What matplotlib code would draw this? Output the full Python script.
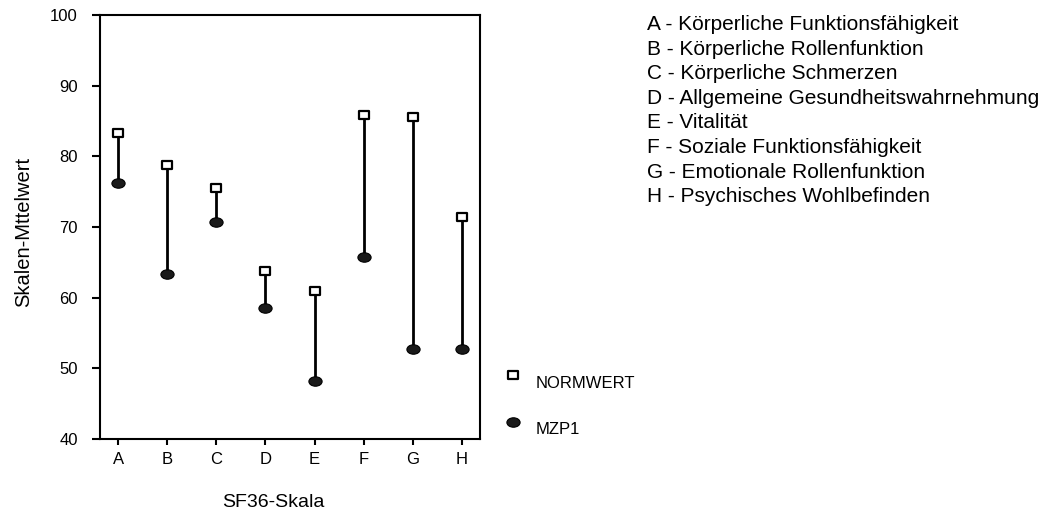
import matplotlib
matplotlib.use("Agg")
import matplotlib.pyplot as plt
from matplotlib.lines import Line2D
from matplotlib.path import Path
from matplotlib.transforms import Affine2D

plt.rcParams["font.family"] = ["Liberation Sans", "DejaVu Sans"]

scales = ["A", "B", "C", "D", "E", "F", "G", "H"]
normwert = [83.3, 78.8, 75.5, 63.8, 60.9, 85.8, 85.6, 71.4]
mzp1 = [76.2, 63.4, 70.7, 58.5, 48.2, 65.8, 52.7, 52.7]
descriptions = [
    "A - Körperliche Funktionsfähigkeit",
    "B - Körperliche Rollenfunktion",
    "C - Körperliche Schmerzen",
    "D - Allgemeine Gesundheitswahrnehmung",
    "E - Vitalität",
    "F - Soziale Funktionsfähigkeit",
    "G - Emotionale Rollenfunktion",
    "H - Psychisches Wohlbefinden",
]

# flat ellipse marker for MZP1, slightly wide square for NORMWERT
ellipse = Path.unit_circle().transformed(Affine2D().scale(1.4, 1.0))
square = Path.unit_rectangle().transformed(
    Affine2D().translate(-0.5, -0.5).scale(1.25, 1.0))

norm_style = dict(marker=square, markersize=7, markerfacecolor="white",
                  markeredgecolor="black", markeredgewidth=1.6,
                  linestyle="none")
mzp_style = dict(marker=ellipse, markersize=9.5, markerfacecolor="#1a1a1a",
                 markeredgecolor="black", markeredgewidth=0.8,
                 linestyle="none")

fig = plt.figure(figsize=(10.55, 5.18), dpi=100)
ax = fig.add_axes([100 / 1055, 1 - 439 / 518, 380 / 1055, 424 / 518])

x = range(len(scales))
ax.vlines(x, mzp1, normwert, color="black", linewidth=2, zorder=1)
ax.plot(x, mzp1, zorder=2, **mzp_style)
ax.plot(x, normwert, zorder=3, **norm_style)

ax.set_xlim(-0.37, 7.37)
ax.set_ylim(40, 100)
ax.set_xticks(list(x))
ax.set_xticklabels(scales)
ax.set_yticks(range(40, 101, 10))
for s in ax.spines.values():
    s.set_linewidth(1.5)
ax.tick_params(axis="y", length=6, width=1.5, pad=10, labelsize=12)
ax.tick_params(axis="x", length=4, width=1.5, pad=5, labelsize=12)

ax.set_ylabel("Skalen-Mttelwert", fontsize=14.5)
ax.yaxis.set_label_coords(-0.176, 0.488)
ax.set_xlabel("SF36-Skala", fontsize=14)
ax.xaxis.set_label_coords(0.455, -0.13)

# legend drawn by hand beside the axes
fig.add_artist(Line2D([513 / 1055], [1 - 375 / 518], **norm_style))
fig.add_artist(Line2D([513 / 1055], [1 - 422 / 518], **mzp_style))
fig.text(536 / 1055, 1 - 384 / 518, "NORMWERT", fontsize=12, va="center")
fig.text(536 / 1055, 1 - 430 / 518, "MZP1", fontsize=12, va="center")

for i, d in enumerate(descriptions):
    fig.text(647 / 1055, 1 - (25 + i * 24.5) / 518, d, fontsize=15,
             va="center")

fig.savefig("out.png", dpi=100)
